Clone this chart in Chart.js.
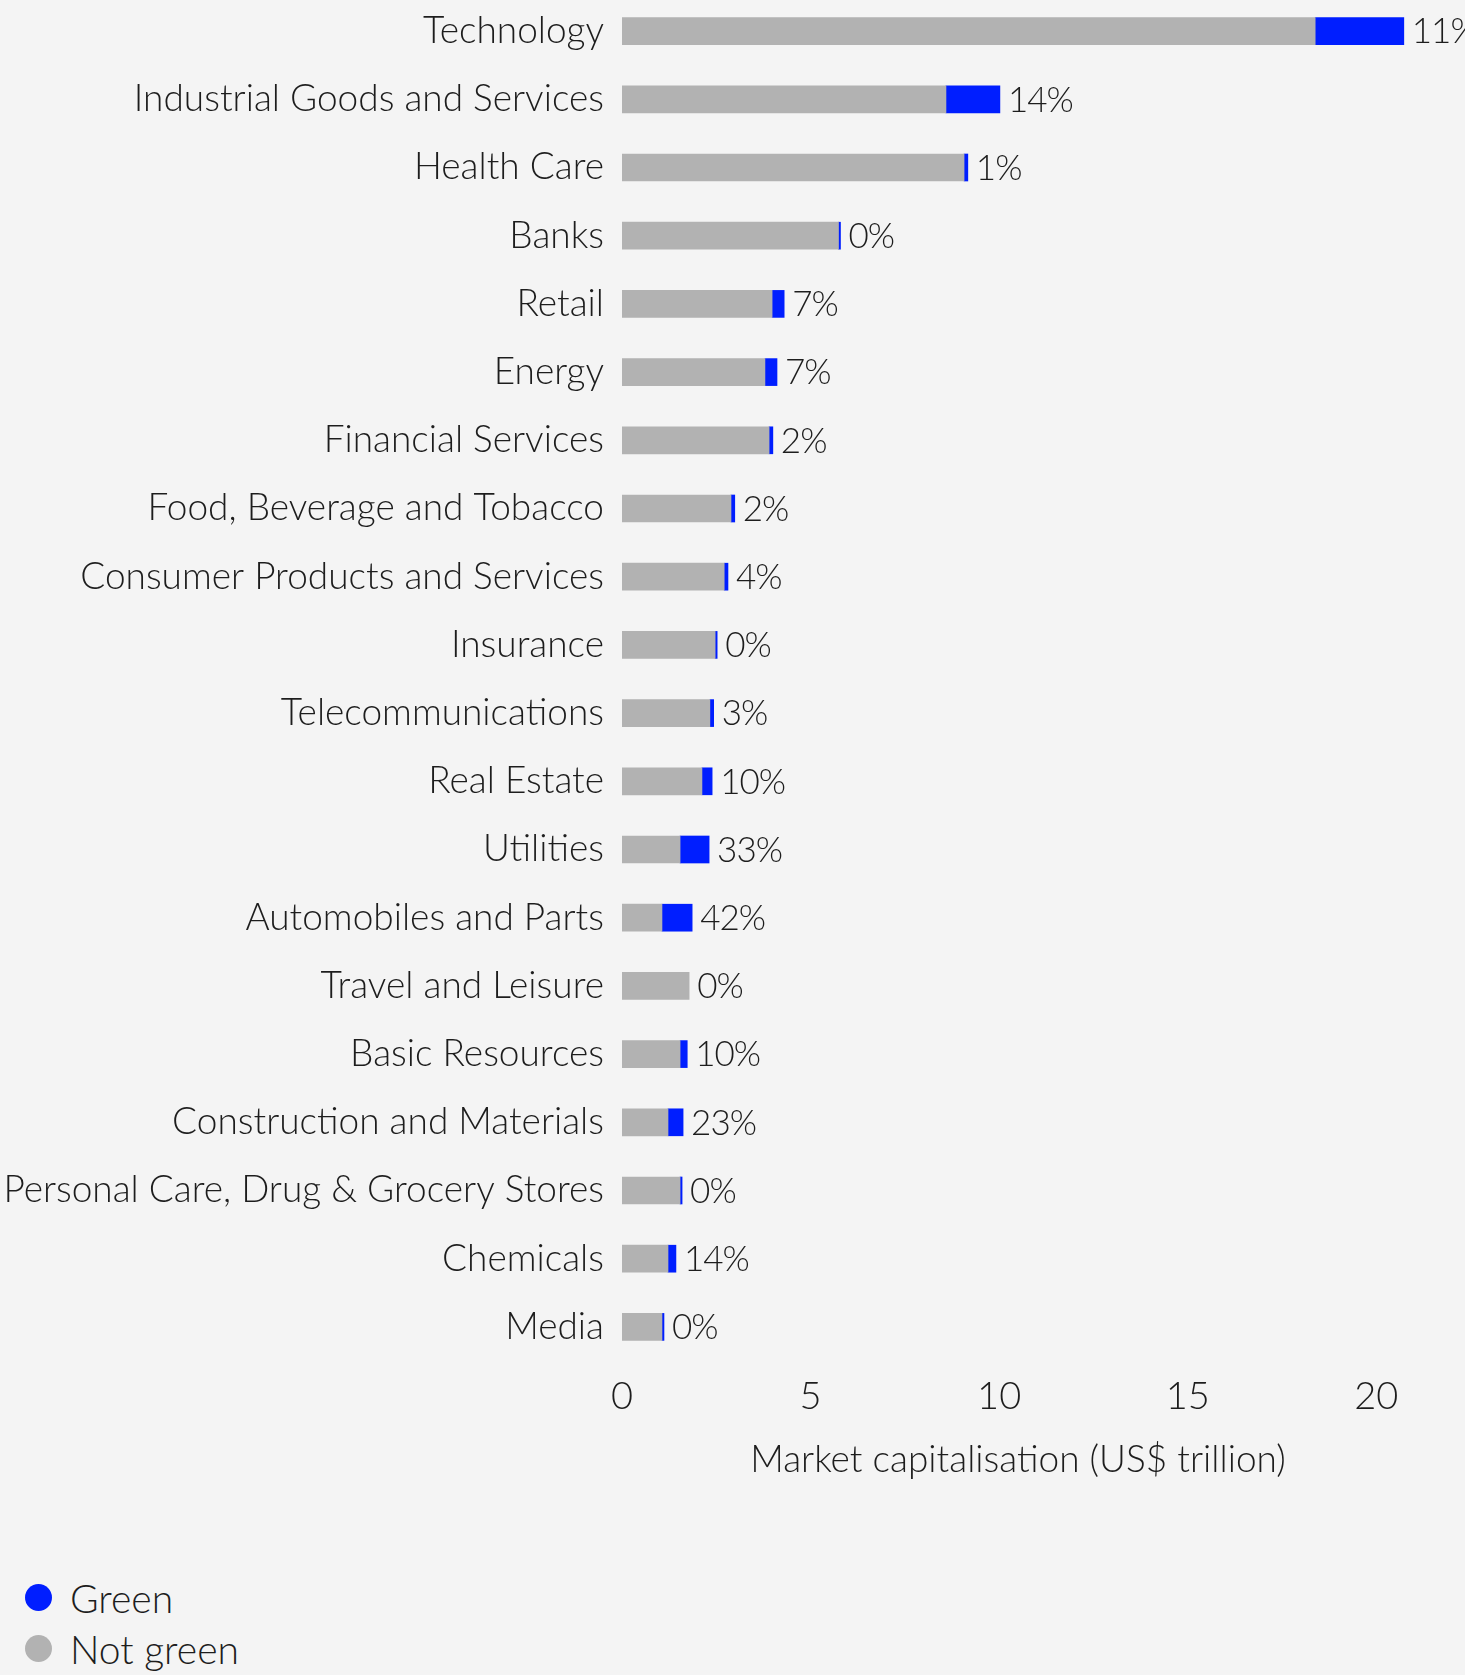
<!DOCTYPE html>
<html>
<head>
<meta charset="utf-8">
<script src="https://cdn.jsdelivr.net/npm/chart.js@4.4.1/dist/chart.umd.min.js"></script>
<style>
  html, body { margin: 0; padding: 0; background: #f4f4f4; }
  #wrap { position: relative; width: 1465px; height: 1675px; overflow: hidden; background: #f4f4f4; }
  #box { position: absolute; left: 0; top: -3px; width: 1465px; height: 1500px; }
  #legend { position: absolute; left: 25px; top: 1572px; font-family: Lato, sans-serif; font-weight: 300; font-size: 39px; color: #1d1d1d; }
  .item { display: flex; align-items: center; height: 51px; }
  .dot { width: 27px; height: 27px; border-radius: 50%; margin-right: 18px; }
</style>
</head>
<body>
<div id="wrap">
  <div id="box"><canvas id="barchart"></canvas></div>
  <div id="legend"></div>
</div>
<script>
const categories = [
  "Technology",
  "Industrial Goods and Services",
  "Health Care",
  "Banks",
  "Retail",
  "Energy",
  "Financial Services",
  "Food, Beverage and Tobacco",
  "Consumer Products and Services",
  "Insurance",
  "Telecommunications",
  "Real Estate",
  "Utilities",
  "Automobiles and Parts",
  "Travel and Leisure",
  "Basic Resources",
  "Construction and Materials",
  "Personal Care, Drug & Grocery Stores",
  "Chemicals",
  "Media",
];
// US$ trillion
const notGreen = [18.38, 8.59, 9.07, 5.74, 3.98, 3.79, 3.90, 2.89, 2.71, 2.47, 2.33, 2.12, 1.54, 1.06, 1.78, 1.54, 1.22, 1.54, 1.22, 1.06];
const green = [2.35, 1.43, 0.10, 0.05, 0.32, 0.32, 0.10, 0.10, 0.10, 0.05, 0.10, 0.27, 0.77, 0.80, null, 0.19, 0.40, 0.05, 0.21, 0.05];
const greenShare = [11, 14, 1, 0, 7, 7, 2, 2, 4, 0, 3, 10, 33, 42, 0, 10, 23, 0, 14, 0];
const xTicks = [0, 5, 10, 15, 20];

const BLUE = "#001eff";
const GREY = "#b2b2b2";
const INK = "#1d1d1d";
const FONT = "Lato, sans-serif";

Chart.defaults.font.family = FONT;
Chart.defaults.font.size = 37;
Chart.defaults.font.weight = 300;
Chart.defaults.color = INK;

// share labels at the end of each bar
const shareLabels = {
  id: "shareLabels",
  afterDatasetsDraw(chart) {
    const c = chart.ctx;
    const grey = chart.getDatasetMeta(0).data;
    const blue = chart.getDatasetMeta(1).data;
    c.save();
    c.font = "300 35px " + FONT;
    c.letterSpacing = "-1px";
    c.fillStyle = INK;
    c.textBaseline = "middle";
    c.textAlign = "left";
    greenShare.forEach((p, i) => {
      const end = green[i] == null ? grey[i].x : Math.max(grey[i].x, blue[i].x);
      c.fillText(p + "%", end + 8, grey[i].y + 1);
    });
    c.restore();
  },
};

new Chart(document.getElementById("barchart"), {
  type: "bar",
  data: {
    labels: categories,
    datasets: [
      {
        label: "Not green",
        data: notGreen,
        backgroundColor: GREY,
        barThickness: 27,
      },
      {
        label: "Green",
        data: green,
        backgroundColor: BLUE,
        barThickness: 27,
        minBarLength: 2,
      },
    ],
  },
  options: {
    indexAxis: "y",
    responsive: true,
    maintainAspectRatio: false,
    animation: false,
    layout: { padding: { left: 0, right: 51, top: 0, bottom: 0 } },
    plugins: {
      legend: { display: false },
      tooltip: { enabled: false },
    },
    scales: {
      y: {
        stacked: true,
        grid: { display: false, drawTicks: false },
        border: { display: false },
        ticks: { padding: 18, color: INK },
        afterFit(s) {
          s.width = 622;
          s.paddingTop = 0;
          s.paddingBottom = 0;
        },
      },
      x: {
        stacked: true,
        min: 0,
        max: 21,
        grid: { display: false, drawTicks: false },
        border: { display: false },
        ticks: { padding: 13, color: INK, font: { size: 38 } },
        afterBuildTicks(axis) { axis.ticks = xTicks.map(v => ({ value: v })); },
        title: {
          display: true,
          text: "Market capitalisation (US$ trillion)",
          color: INK,
          padding: { top: 0, bottom: 15 },
        },
        afterFit(s) { s.height = 136; },
      },
    },
  },
  plugins: [shareLabels],
});

const legend = document.getElementById("legend");
[["Green", BLUE], ["Not green", GREY]].forEach(([name, col]) => {
  const row = document.createElement("div");
  row.className = "item";
  row.innerHTML = '<span class="dot" style="background:' + col + '"></span><span>' + name + "</span>";
  legend.appendChild(row);
});
</script>
</body>
</html>
